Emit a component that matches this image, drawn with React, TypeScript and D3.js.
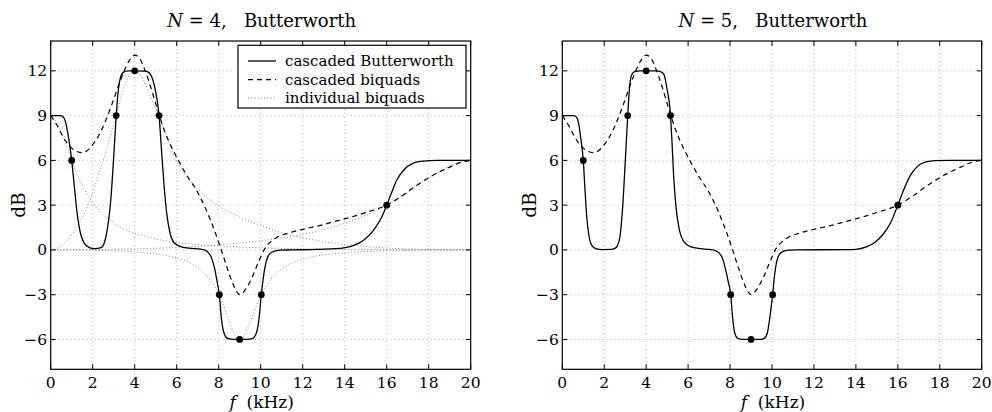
import React from 'react';
import * as d3 from 'd3';

// ---------- data (kHz, dB) ----------
const xTicks = [0, 2, 4, 6, 8, 10, 12, 14, 16, 18, 20];
const yTicks = [-6, -3, 0, 3, 6, 9, 12];
const xDomain: [number, number] = [0, 20];
const yDomain: [number, number] = [-8, 14];

const markerF = [1, 3.12, 4, 5.16, 8.03, 9, 10.03, 16];
const markerDb = [6, 9, 12, 9, -3, -6, -3, 3];

const butterworthN4: [number, number][] = [
  [0, 9], [0.43, 9], [0.58, 8.93], [0.68, 8.7], [0.82, 7.8], [1.0, 6.0], [1.13, 4.2], [1.26, 2.45],
  [1.42, 1.1], [1.6, 0.44], [1.84, 0.16], [2.1, 0.08], [2.4, 0.15], [2.58, 0.6], [2.71, 1.5],
  [2.87, 3.5], [2.99, 6.0], [3.12, 9.0], [3.22, 10.7], [3.33, 11.6], [3.45, 11.9], [3.7, 12.0],
  [4.0, 12.0], [4.5, 11.98], [4.7, 11.85], [4.85, 11.45], [4.97, 10.8], [5.16, 9.0], [5.29, 6.4],
  [5.4, 4.3], [5.52, 2.5], [5.68, 1.15], [5.9, 0.45], [6.3, 0.17], [6.9, 0.08], [7.25, 0.02],
  [7.45, -0.1], [7.65, -0.5], [7.8, -1.2], [7.92, -2.1], [8.03, -3.0], [8.13, -4.6], [8.25, -5.55],
  [8.42, -5.93], [8.7, -6.0], [9.0, -6.0], [9.35, -6.0], [9.62, -5.93], [9.8, -5.55],
  [9.92, -4.6], [10.03, -3.0], [10.14, -1.7], [10.28, -0.7], [10.5, -0.17], [10.9, -0.02],
  [11.5, 0.0], [12.7, 0.03], [13.5, 0.08], [13.95, 0.14], [14.4, 0.29], [14.9, 0.65],
  [15.36, 1.3], [15.76, 2.19], [16.0, 3.0], [16.24, 3.87], [16.47, 4.65], [16.79, 5.32],
  [17.27, 5.82], [17.74, 5.95], [18.4, 6.0], [20, 6.0],
];

const butterworthN5: [number, number][] = [
  [0, 9], [0.55, 9], [0.68, 8.9], [0.77, 8.55], [0.87, 7.6], [1.0, 6.0], [1.08, 4.1], [1.16, 2.3],
  [1.27, 0.95], [1.4, 0.32], [1.6, 0.08], [1.9, 0.02], [2.3, 0.03], [2.5, 0.1], [2.62, 0.25],
  [2.75, 0.9], [2.88, 2.9], [2.99, 5.6], [3.12, 9.0], [3.2, 10.8], [3.3, 11.7], [3.45, 11.95],
  [3.7, 12.0], [4.0, 12.0], [4.5, 12.0], [4.68, 11.95], [4.85, 11.75], [4.98, 10.9], [5.16, 9.0],
  [5.23, 7.3], [5.3, 5.2], [5.42, 2.9], [5.58, 1.35], [5.8, 0.55], [6.1, 0.22], [6.6, 0.08],
  [7.0, 0.03], [7.3, -0.04], [7.49, -0.22], [7.65, -0.6], [7.8, -1.4], [7.91, -2.1], [8.03, -3.0],
  [8.12, -4.5], [8.22, -5.55], [8.37, -5.93], [8.6, -6.0], [9.0, -6.0], [9.45, -6.0],
  [9.63, -5.93], [9.78, -5.55], [9.9, -4.5], [10.03, -3.0], [10.13, -1.6], [10.28, -0.5],
  [10.5, -0.12], [10.8, -0.02], [11.2, 0.0], [13.5, 0.02], [14.0, 0.04], [14.5, 0.2],
  [14.9, 0.5], [15.3, 1.05], [15.65, 1.8], [16.0, 3.0], [16.3, 4.1], [16.6, 5.0], [16.9, 5.55],
  [17.3, 5.88], [17.8, 5.98], [18.5, 6.0], [20, 6.0],
];

const cascadedBiquads: [number, number][] = [
  [0, 9.0], [0.3, 8.35], [0.6, 7.55], [0.9, 6.95], [1.2, 6.62], [1.45, 6.52], [1.7, 6.62],
  [2.0, 7.05], [2.3, 7.7], [2.6, 8.6], [2.9, 9.7], [3.2, 10.9], [3.5, 12.0], [3.75, 12.7],
  [4.0, 13.05], [4.25, 12.8], [4.5, 12.0], [4.8, 10.75], [5.1, 9.35], [5.4, 8.05], [5.7, 7.05],
  [6.1, 5.95], [6.5, 4.95], [7.0, 3.85], [7.4, 2.7], [7.8, 1.3], [8.1, 0.1], [8.4, -1.2],
  [8.7, -2.35], [9.0, -3.0], [9.3, -2.6], [9.6, -1.8], [9.9, -0.8], [10.2, 0.1], [10.5, 0.58],
  [10.8, 0.87], [11.3, 1.12], [12.0, 1.38], [12.8, 1.63], [13.5, 1.9], [14.3, 2.2], [15.1, 2.55],
  [16.0, 3.0], [16.6, 3.5], [17.4, 4.3], [18.2, 5.0], [19.0, 5.55], [19.6, 5.9], [20, 6.0],
];

const lowShelfBiquad: [number, number][] = [
  [0, 9], [0.3, 8.5], [0.6, 7.55], [0.8, 6.8], [1.0, 6.0], [1.2, 5.25], [1.4, 4.62], [1.7, 3.82],
  [2.0, 3.18], [2.4, 2.52], [2.9, 1.92], [3.4, 1.45], [4.0, 1.12], [5.0, 0.74], [6.0, 0.5],
  [7.0, 0.36], [8.0, 0.26], [9.0, 0.19], [10.0, 0.14], [12.0, 0.08], [14.0, 0.04],
  [16.0, 0.015], [20, 0],
];

const peakBiquad: [number, number][] = [
  [0, 0], [0.5, 0.27], [1.0, 1.0], [1.5, 2.15], [2.0, 3.85], [2.3, 5.1], [2.6, 6.45],
  [2.9, 7.9], [3.12, 9.0], [3.4, 10.5], [3.7, 11.6], [4.0, 12.0], [4.3, 11.7], [4.6, 10.8],
  [4.9, 9.75], [5.16, 9.0], [5.5, 7.65], [6.0, 5.95], [6.5, 4.9], [7.0, 4.1], [7.5, 3.45],
  [8.0, 2.95], [9.0, 2.2], [10.0, 1.65], [11.0, 1.15], [12.0, 0.82], [13.0, 0.56], [14.0, 0.36],
  [16.0, 0.13], [18.0, 0.03], [20, 0],
];

const dipBiquad: [number, number][] = [
  [0, 0], [2.0, -0.03], [4.0, -0.13], [5.0, -0.27], [6.0, -0.53], [6.5, -0.77], [7.0, -1.17],
  [7.5, -1.84], [8.03, -3.0], [8.5, -4.78], [8.75, -5.64], [9.0, -6.0], [9.25, -5.64],
  [9.5, -4.81], [10.03, -3.0], [10.5, -1.94], [11.0, -1.27], [12.0, -0.62], [13.0, -0.33],
  [14.0, -0.19], [16.0, -0.06], [18.0, -0.015], [20, 0],
];

const highShelfBiquad: [number, number][] = [
  [0, 0], [2.0, 0.02], [4.0, 0.07], [6.0, 0.17], [8.0, 0.34], [10.0, 0.61], [11.0, 0.8],
  [12.0, 1.04], [13.0, 1.36], [14.0, 1.78], [15.0, 2.31], [16.0, 3.0], [17.0, 3.85],
  [18.0, 4.8], [19.0, 5.6], [19.5, 5.9], [20, 6.0],
];

const legendLabels = ['cascaded Butterworth', 'cascaded biquads', 'individual biquads'];

// ---------- layout ----------
const W = 992;
const H = 412;
const TOP = 41;
const BOTTOM = 369.3;
const FONT = '"DejaVu Serif", serif';

type PanelProps = {
  x0: number;
  x1: number;
  order: string;
  butter: [number, number][];
  showBiquads: boolean;
};

function Panel({ x0, x1, order, butter, showBiquads }: PanelProps) {
  const x = d3.scaleLinear().domain(xDomain).range([x0, x1]);
  const y = d3.scaleLinear().domain(yDomain).range([BOTTOM, TOP]);
  const line = d3
    .line<[number, number]>()
    .x((d) => x(d[0]))
    .y((d) => y(d[1]))
    .curve(d3.curveMonotoneX);
  const cx = (x0 + x1) / 2;
  const tick = 5;
  const biquads = [lowShelfBiquad, peakBiquad, dipBiquad, highShelfBiquad];
  const clipId = `clip-${order}`;

  return (
    <g>
      <defs>
        <clipPath id={clipId}>
          <rect x={x0} y={TOP} width={x1 - x0} height={BOTTOM - TOP} />
        </clipPath>
      </defs>
      {/* grid */}
      {xTicks.slice(1, -1).map((t) => (
        <line key={'gx' + t} x1={x(t)} x2={x(t)} y1={TOP} y2={BOTTOM}
          stroke="#b4b4b4" strokeWidth={1} strokeDasharray="1 3" />
      ))}
      {yTicks.map((t) => (
        <line key={'gy' + t} x1={x0} x2={x1} y1={y(t)} y2={y(t)}
          stroke="#b4b4b4" strokeWidth={1} strokeDasharray="1 3" />
      ))}
      <g clipPath={`url(#${clipId})`}>
        {showBiquads &&
          biquads.map((b, i) => (
            <path key={'bq' + i} d={line(b) || ''} fill="none" stroke="#8a8a8a"
              strokeWidth={1} strokeDasharray="1 2.2" />
          ))}
        <path d={line(cascadedBiquads) || ''} fill="none" stroke="#000" strokeWidth={1.2}
          strokeDasharray="5 4" />
        <path d={line(butter) || ''} fill="none" stroke="#000" strokeWidth={1.3} />
        {markerF.map((f, i) => (
          <circle key={'m' + i} cx={x(f)} cy={y(markerDb[i])} r={3.4} fill="#000" />
        ))}
      </g>
      {/* frame and ticks */}
      <rect x={x0} y={TOP} width={x1 - x0} height={BOTTOM - TOP} fill="none" stroke="#000" strokeWidth={1.2} />
      {xTicks.map((t) => (
        <g key={'tx' + t}>
          <line x1={x(t)} x2={x(t)} y1={BOTTOM} y2={BOTTOM - tick} stroke="#000" />
          <line x1={x(t)} x2={x(t)} y1={TOP} y2={TOP + tick} stroke="#000" />
          <text x={x(t)} y={388} textAnchor="middle" fontFamily={FONT} fontSize={15.5} fill="#000">
            {t}
          </text>
        </g>
      ))}
      {yTicks.map((t) => (
        <g key={'ty' + t}>
          <line x1={x0} x2={x0 + tick} y1={y(t)} y2={y(t)} stroke="#000" />
          <line x1={x1} x2={x1 - tick} y1={y(t)} y2={y(t)} stroke="#000" />
          <text x={x0 - 3.5} y={y(t) + 5.5} textAnchor="end" fontFamily={FONT} fontSize={15.5} fill="#000">
            {t < 0 ? '\u2212' + Math.abs(t) : t}
          </text>
        </g>
      ))}
      {/* title */}
      <text x={cx + 1} y={26.5} textAnchor="middle" fontFamily={FONT} fontSize={18} fill="#000">
        <tspan fontStyle="italic">N</tspan>
        {' = ' + order + ',\u00a0\u00a0\u00a0Butterworth'}
      </text>
      {/* axis labels */}
      <text x={cx + 1} y={408} textAnchor="middle" fontFamily={FONT} fontSize={17} fill="#000">
        <tspan fontStyle="italic">f</tspan>
        {'\u00a0\u00a0(kHz)'}
      </text>
      <text transform={`translate(${x0 - 26},${(TOP + BOTTOM) / 2}) rotate(-90)`} textAnchor="middle"
        fontFamily={FONT} fontSize={18.5} fill="#000">
        dB
      </text>
      {showBiquads && (
        <g>
          <rect x={238} y={45.3} width={228} height={62.7} fill="#fff" stroke="#000" strokeWidth={1.2} />
          {legendLabels.map((lab, i) => {
            const ly = 61 + i * 18.6;
            return (
              <g key={lab}>
                <line x1={248} x2={276} y1={ly} y2={ly} stroke={i === 2 ? '#8a8a8a' : '#000'}
                  strokeWidth={i === 0 ? 1.3 : 1.2}
                  strokeDasharray={i === 1 ? '5 4' : i === 2 ? '1 2.2' : undefined} />
                <text x={285} y={ly + 5} fontFamily={FONT} fontSize={15} fill="#000">
                  {lab}
                </text>
              </g>
            );
          })}
        </g>
      )}
    </g>
  );
}

export default function App() {
  return (
    <svg width={W} height={H} viewBox={`0 0 ${W} ${H}`}
      style={{ position: 'absolute', left: 0, top: 0, background: '#fff' }}>
      <rect x={0} y={0} width={W} height={H} fill="#fff" />
      <Panel x0={50.7} x1={470.7} order="4" butter={butterworthN4} showBiquads={true} />
      <Panel x0={562.3} x1={981.7} order="5" butter={butterworthN5} showBiquads={false} />
    </svg>
  );
}
